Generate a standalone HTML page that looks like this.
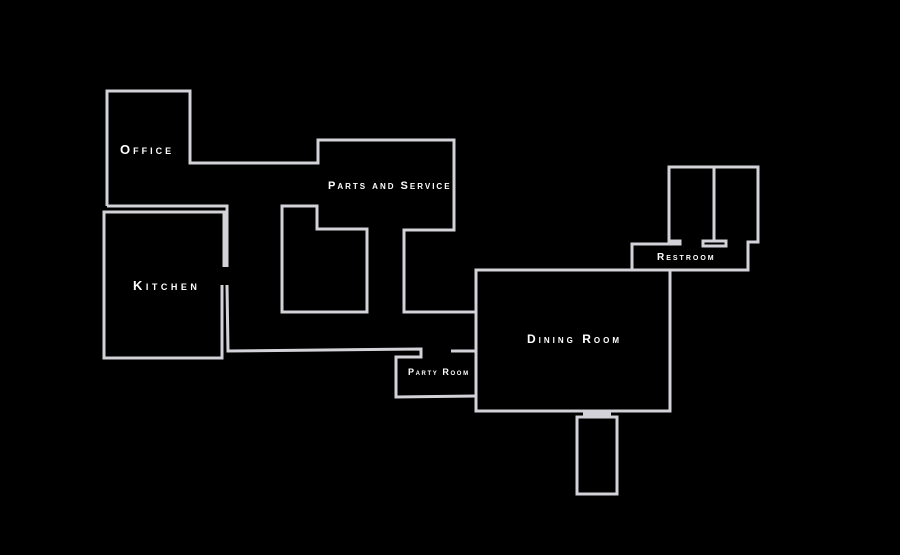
<!DOCTYPE html>
<html><head><style>
html,body{margin:0;padding:0;background:#000;}
body{width:900px;height:555px;overflow:hidden;position:relative;}
svg{position:absolute;left:0;top:0;}
.t{position:absolute;color:#fff;font-family:"Liberation Sans",sans-serif;font-weight:bold;font-variant:small-caps;white-space:nowrap;}
</style></head><body>
<svg width="900" height="555" viewBox="0 0 900 555">
<g fill="none" stroke="#d2d2d8" stroke-width="3" stroke-linejoin="miter">
<polyline points="107,206 107,91 190,91 190,163 318,163 318,140 454,140 454,230 404,230 404,312 476,312"/>
<polyline points="107,206 227,206 227,267"/>
<polyline points="224,267 224,212 104,212 104,358 222,358 222,285"/>
<polyline points="227,285 228,351 421,349 421,357 396,357 396,397 476,396"/>
<polyline points="451,351 476,351"/>
<polygon points="282,206 317,206 317,229 367,229 367,312 282,312"/>
<rect x="476" y="270" width="194" height="141"/>
<polyline points="632,270 632,244 680,244 680,241 669,241 669,167 758,167 758,242 748,242 748,270 670,270"/>
<line x1="714" y1="167" x2="714" y2="242"/>
<rect x="703" y="241" width="23" height="5"/>
<rect x="577" y="417" width="40" height="77"/>
</g>
<rect x="583" y="411" width="28" height="6" fill="#d2d2d8"/>
</svg>
<div class="t" style="left:120px;top:142px;font-size:13px;letter-spacing:3px;">Office</div>
<div class="t" style="left:328px;top:180px;font-size:11px;letter-spacing:2px;">Parts and Service</div>
<div class="t" style="left:133px;top:278px;font-size:13px;letter-spacing:3.5px;">Kitchen</div>
<div class="t" style="left:527px;top:332px;font-size:12px;letter-spacing:3px;">Dining Room</div>
<div class="t" style="left:657px;top:252px;font-size:10px;letter-spacing:2px;">Restroom</div>
<div class="t" style="left:408px;top:367px;font-size:9px;letter-spacing:1.6px;">Party Room</div>
</body></html>
